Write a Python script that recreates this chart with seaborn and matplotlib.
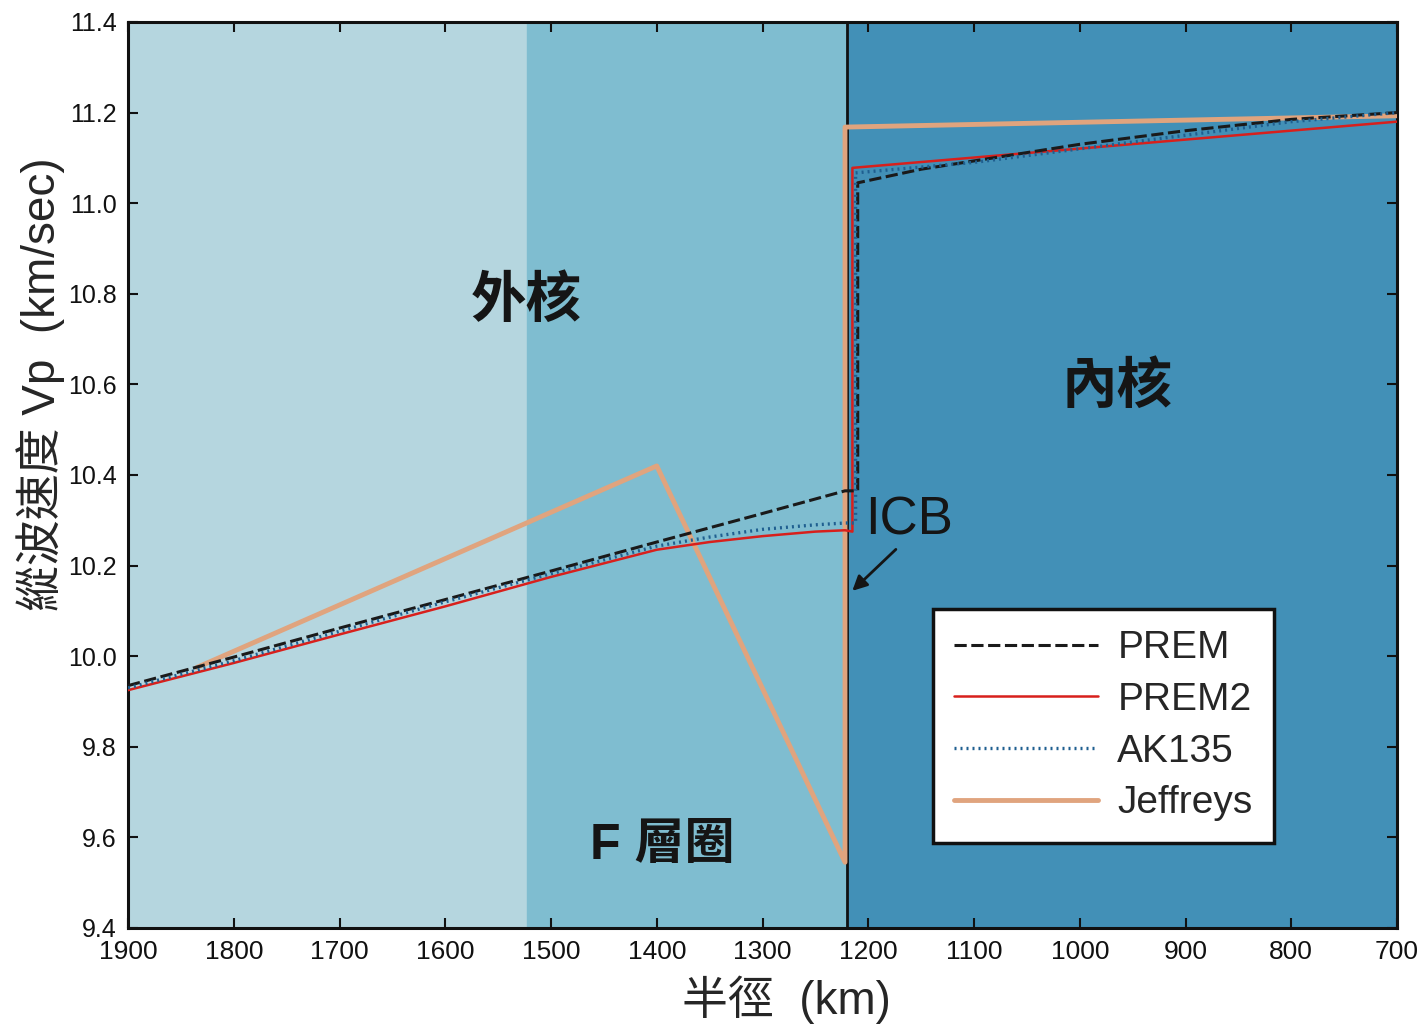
import matplotlib
matplotlib.use('Agg')
import matplotlib.pyplot as plt
import seaborn as sns
import pandas as pd

# radius (km) and Vp (km/s)
prem_r = [1900, 1800, 1700, 1600, 1500, 1400, 1300, 1222, 1210, 1210, 1150, 1000, 900, 800, 700]
prem_v = [9.935, 9.998, 10.062, 10.125, 10.188, 10.252, 10.315, 10.365, 10.365, 11.045, 11.075, 11.13, 11.16, 11.185, 11.20]

prem2_r = [1900, 1800, 1700, 1600, 1500, 1400, 1350, 1300, 1250, 1222, 1215, 1215, 700]
prem2_v = [9.925, 9.985, 10.048, 10.11, 10.175, 10.235, 10.252, 10.265, 10.275, 10.278, 10.275, 11.078, 11.18]

ak135_r = [1900, 1800, 1700, 1600, 1500, 1400, 1350, 1300, 1250, 1222, 1212, 1212, 1100, 1000, 900, 800, 700]
ak135_v = [9.93, 9.99, 10.055, 10.12, 10.182, 10.243, 10.263, 10.28, 10.29, 10.294, 10.294, 11.067, 11.09, 11.12, 11.15, 11.18, 11.20]

jeff_r = [1835, 1400, 1222, 1222, 700]
jeff_v = [9.975, 10.42, 9.545, 11.168, 11.193]

models = ['PREM', 'PREM2', 'AK135', 'Jeffreys']

outer_f = 1523   # start of F layer
icb = 1220

sns.set_theme(style='ticks')
plt.rcParams['font.family'] = ['Liberation Sans', 'Noto Sans CJK TC', 'DejaVu Sans']

fig = plt.figure(figsize=(14.18, 10.28), dpi=100)
ax = fig.add_axes([0.0903, 0.0973, 0.8949, 0.8813])

ax.axvspan(1900, outer_f, color='#b5d6df', zorder=0)
ax.axvspan(outer_f, icb, color='#7fbdd0', zorder=0)
ax.axvspan(icb, 700, color='#4290b7', zorder=0)
ax.axvline(icb, color='#111111', lw=2, zorder=1)

df = pd.concat([
    pd.DataFrame({'r': prem_r, 'vp': prem_v, 'model': 'PREM'}),
    pd.DataFrame({'r': prem2_r, 'vp': prem2_v, 'model': 'PREM2'}),
    pd.DataFrame({'r': ak135_r, 'vp': ak135_v, 'model': 'AK135'}),
    pd.DataFrame({'r': jeff_r, 'vp': jeff_v, 'model': 'Jeffreys'}),
])

styles = {
    'Jeffreys': dict(color='#e0a47e', lw=3.5, ls='-'),
    'PREM2': dict(color='#d8201c', lw=1.8, ls='-'),
    'PREM': dict(color='#1a1a1a', lw=2.2, ls=(0, (4, 1.5))),
    'AK135': dict(color='#1f5f90', lw=2.4, ls=(0, (0.6, 1.2))),
}
for m in ['Jeffreys', 'PREM2', 'PREM', 'AK135']:
    sub = df[df['model'] == m]
    sns.lineplot(data=sub, x='r', y='vp', ax=ax, sort=False, estimator=None,
                 color=styles[m]['color'], linewidth=styles[m]['lw'],
                 linestyle=styles[m]['ls'], label=m, zorder=3)

ax.set_xlim(1900, 700)
ax.set_ylim(9.4, 11.4)
ax.set_xticks(range(1900, 699, -100))
ax.set_yticks([9.4, 9.6, 9.8, 10.0, 10.2, 10.4, 10.6, 10.8, 11.0, 11.2, 11.4])
ax.set_yticklabels(['9.4', '9.6', '9.8', '10.0', '10.2', '10.4', '10.6', '10.8', '11.0', '11.2', '11.4'])
ax.tick_params(direction='in', length=7, width=1.5, top=True, right=True, colors='#111111')
ax.tick_params(axis='x', labelsize=19, pad=9)
ax.tick_params(axis='y', labelsize=18, pad=8)
for s in ax.spines.values():
    s.set_linewidth(2.2)
    s.set_color('#111111')

ax.set_xlabel('半徑  (km)', fontsize=33)
ax.xaxis.set_label_coords(0.519, -0.052)
ax.set_ylabel('縱波速度 Vp  (km/sec)', fontsize=33)
ax.yaxis.set_label_coords(-0.05, 0.6)

ax.text(1523, 10.78, '外核', fontsize=40, fontweight='bold', ha='center', va='center', color='#151515')
ax.text(965, 10.59, '內核', fontsize=40, fontweight='bold', ha='center', va='center', color='#151515')
ax.text(1395, 9.58, 'F 層圈', fontsize=36, fontweight='bold', ha='center', va='center', color='#151515')
ax.text(1161, 10.3, 'ICB', fontsize=38, ha='center', va='center', color='#151515')
ax.annotate('', xy=(1217, 10.14), xytext=(1172, 10.24),
            arrowprops=dict(arrowstyle='-|>', color='#151515', lw=2, mutation_scale=22))

handles, labels = ax.get_legend_handles_labels()
order = [labels.index(m) for m in models]
leg = ax.legend([handles[i] for i in order], [labels[i] for i in order],
                loc='upper left', bbox_to_anchor=(0.634, 0.352),
                fontsize=28, handlelength=3.7, labelspacing=0.4, handletextpad=0.5,
                borderpad=0.55, borderaxespad=0, frameon=True, fancybox=False, framealpha=1,
                edgecolor='#111111')
leg.get_frame().set_linewidth(2.5)
leg.set_zorder(5)

fig.savefig('out.png', dpi=100)
